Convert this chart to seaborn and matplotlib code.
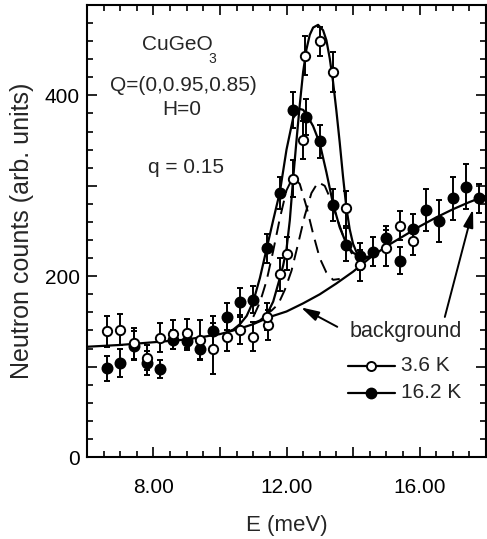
import numpy as np
import pandas as pd
import matplotlib
matplotlib.use("Agg")
import matplotlib.pyplot as plt
import seaborn as sns
from matplotlib.ticker import MultipleLocator, FixedLocator

sns.set_theme(style="ticks")
plt.rcParams['font.family'] = ['Liberation Sans', 'DejaVu Sans']

# ---- data ----
E_open = [6.6, 7.0, 7.4, 7.8, 8.2, 8.6, 9.0, 9.4, 9.8, 10.2, 10.6, 11.0, 11.45, 11.4,
          11.8, 12.0, 12.2, 12.5, 12.55, 13.0, 13.4, 13.8, 14.2, 15.0, 15.4, 15.8]
I_open = [139, 141, 126, 110, 132, 136, 137, 130, 120, 133, 141, 133, 146, 155,
          202, 225, 308, 351, 444, 460, 426, 275, 212, 231, 256, 239]
err_open = [17, 17, 17, 14, 16, 16, 16, 22, 28, 16, 16, 16, 17, 15,
            18, 18, 20, 21, 22, 16, 22, 19, 17, 20, 16, 15]

E_fill = [6.6, 7.0, 7.4, 7.8, 8.2, 8.6, 9.0, 9.4, 9.8, 10.2, 10.6, 11.0, 11.4, 11.8,
          12.2, 12.6, 13.0, 13.4, 13.8, 14.2, 14.6, 15.0, 15.4, 15.8, 16.2, 16.6,
          17.0, 17.4, 17.8]
I_fill = [98, 104, 123, 104, 97, 130, 128, 119, 139, 155, 171, 174, 231, 292,
          384, 376, 349, 279, 235, 222, 227, 242, 217, 252, 273, 261,
          286, 299, 286]
err_fill = [14, 15, 16, 13, 10, 11, 10, 12, 17, 15, 16, 15, 16, 18,
            20, 20, 18, 18, 18, 15, 16, 14, 15, 17, 23, 23,
            24, 25, 16]

# fitted curves, points
E_bg = [6.0, 7.0, 8.0, 9.0, 10.0, 10.5, 11.0, 11.5, 12.0, 12.5, 13.0, 13.5, 14.0,
        14.5, 15.0, 15.5, 16.0, 16.5, 17.0, 17.5, 18.0]
I_bg = [122, 124, 127, 130, 136, 141, 147, 155, 161, 170, 180, 192, 205,
        220, 233, 244, 255, 265, 274, 282, 289]

E_fit_open = [11.0, 11.2, 11.4, 11.6, 11.8, 11.9, 12.0, 12.1, 12.2, 12.3, 12.4, 12.5,
              12.6, 12.7, 12.8, 12.95, 13.1, 13.2, 13.3, 13.4, 13.5, 13.6, 13.7,
              13.8, 13.9, 14.0, 14.1, 14.2, 14.35, 14.5]
I_fit_open = [148, 151, 157, 172, 198, 212, 230, 262, 308, 350, 390, 426,
              451, 467, 475, 478, 472, 461, 441, 415, 383, 348, 310,
              276, 252, 236, 227, 222, 221, 222]

E_fit_fill = [10.2, 10.4, 10.6, 10.8, 11.0, 11.2, 11.4, 11.6, 11.8, 12.0, 12.2,
              12.4, 12.5, 12.6, 12.8, 13.0, 13.2, 13.4, 13.6, 13.8, 14.0, 14.2,
              14.4]
I_fit_fill = [138, 141, 147, 156, 172, 198, 230, 262, 293, 340, 375,
              385, 384, 379, 366, 347, 315, 280, 254, 236, 226, 222,
              221]

E_dash1 = [11.0, 11.2, 11.4, 11.6, 11.8, 12.0, 12.2, 12.4, 12.6, 12.8, 13.0, 13.2,
           13.4, 13.6]
I_dash1 = [155, 171, 195, 228, 264, 295, 310, 302, 277, 247, 220, 204,
           196, 197]
E_dash2 = [11.35, 11.55, 11.75, 11.95, 12.15, 12.35, 12.55, 12.75, 12.95, 13.15,
           13.35, 13.55, 13.75, 13.95, 14.15, 14.35, 14.55]
I_dash2 = [157, 162, 169, 185, 206, 236, 267, 292, 304, 300,
           283, 261, 240, 226, 218, 219, 222]

xticks = [8, 12, 16]
xticklabels = ["8.00", "12.00", "16.00"]
yticks = [0, 200, 400]

# ---- figure ----
fig = plt.figure(figsize=(4.87, 5.39), dpi=100)
ax = fig.add_axes([0.1786, 0.152, 0.8194, 0.8388])

open_df = pd.DataFrame({"E": E_open, "I": I_open})
fill_df = pd.DataFrame({"E": E_fill, "I": I_fill})

lw = 1.6
sns.lineplot(x=E_bg, y=I_bg, ax=ax, color="black", lw=lw, sort=False)
sns.lineplot(x=E_fit_open, y=I_fit_open, ax=ax, color="black", lw=lw, sort=False)
sns.lineplot(x=E_fit_fill, y=I_fit_fill, ax=ax, color="black", lw=lw, sort=False)
sns.lineplot(x=E_dash1, y=I_dash1, ax=ax, color="black", lw=1.4, sort=False,
             linestyle=(0, (7, 4)))
sns.lineplot(x=E_dash2, y=I_dash2, ax=ax, color="black", lw=1.4, sort=False,
             linestyle=(0, (7, 4)))

ax.errorbar(E_fill, I_fill, yerr=err_fill, fmt="none", ecolor="black", elinewidth=1.4,
            capsize=2.5, capthick=1.4, zorder=3)
ax.errorbar(E_open, I_open, yerr=err_open, fmt="none", ecolor="black", elinewidth=1.4,
            capsize=2.5, capthick=1.4, zorder=3)
sns.scatterplot(data=fill_df, x="E", y="I", ax=ax, color="black", s=55, edgecolor="black",
                linewidth=1.2, zorder=5)
sns.scatterplot(data=open_df, x="E", y="I", ax=ax, color="white", s=45, edgecolor="black",
                linewidth=1.4, zorder=5)

fs = 15
ax.set_xlim(6, 18)
ax.set_ylim(0, 500)
ax.xaxis.set_major_locator(FixedLocator([6, 8, 10, 12, 14, 16, 18]))
ax.set_xticklabels(["", xticklabels[0], "", xticklabels[1], "", xticklabels[2], ""])
ax.xaxis.set_minor_locator(MultipleLocator(0.5))
ax.yaxis.set_major_locator(FixedLocator([0, 100, 200, 300, 400, 500]))
ax.set_yticklabels([str(yticks[0]), "", str(yticks[1]), "", str(yticks[2]), ""])
ax.yaxis.set_minor_locator(MultipleLocator(20))
ax.tick_params(which="both", direction="in", top=True, right=True, colors="black",
               labelsize=fs, width=1.2)
ax.tick_params(which="major", length=7)
ax.tick_params(which="minor", length=4)
ax.tick_params(axis="x", which="major", pad=15)
ax.tick_params(axis="y", which="major", pad=5)
for s in ax.spines.values():
    s.set_linewidth(1.5)
    s.set_color("black")

ax.set_xlabel("E (meV)", fontsize=16, labelpad=13)
ax.set_ylabel("Neutron counts (arb. units)", fontsize=18, labelpad=8)

ax.text(8.73, 456, "CuGeO", ha="center", va="center", fontsize=fs)
ax.text(9.78, 440, "3", ha="center", va="center", fontsize=10)
ax.text(8.9, 411, "Q=(0,0.95,0.85)", ha="center", va="center", fontsize=fs)
ax.text(8.85, 384, "H=0", ha="center", va="center", fontsize=fs)
ax.text(8.97, 320, "q = 0.15", ha="center", va="center", fontsize=fs)

ax.text(15.6, 139, "background", ha="center", va="center", fontsize=15.5)
ax.annotate("", xy=(12.36, 167), xytext=(13.6, 142.6),
            arrowprops=dict(arrowstyle="-|>,head_length=0.9,head_width=0.25",
                            color="black", lw=1.4))
ax.annotate("", xy=(17.63, 277), xytext=(16.74, 152),
            arrowprops=dict(arrowstyle="-|>,head_length=0.9,head_width=0.25",
                            color="black", lw=1.4))

ax.plot([13.85, 15.25], [101, 101], color="black", lw=lw)
ax.plot([14.55], [101], "o", mfc="white", mec="black", ms=6.5, mew=1.4)
ax.text(15.43, 101, "3.6 K", ha="left", va="center", fontsize=fs)
ax.plot([13.85, 15.25], [71, 71], color="black", lw=lw)
ax.plot([14.55], [71], "o", mfc="black", mec="black", ms=7.5)
ax.text(15.43, 71, "16.2 K", ha="left", va="center", fontsize=fs)

if ax.get_legend() is not None:
    ax.get_legend().remove()

fig.savefig("out.png", dpi=100)
